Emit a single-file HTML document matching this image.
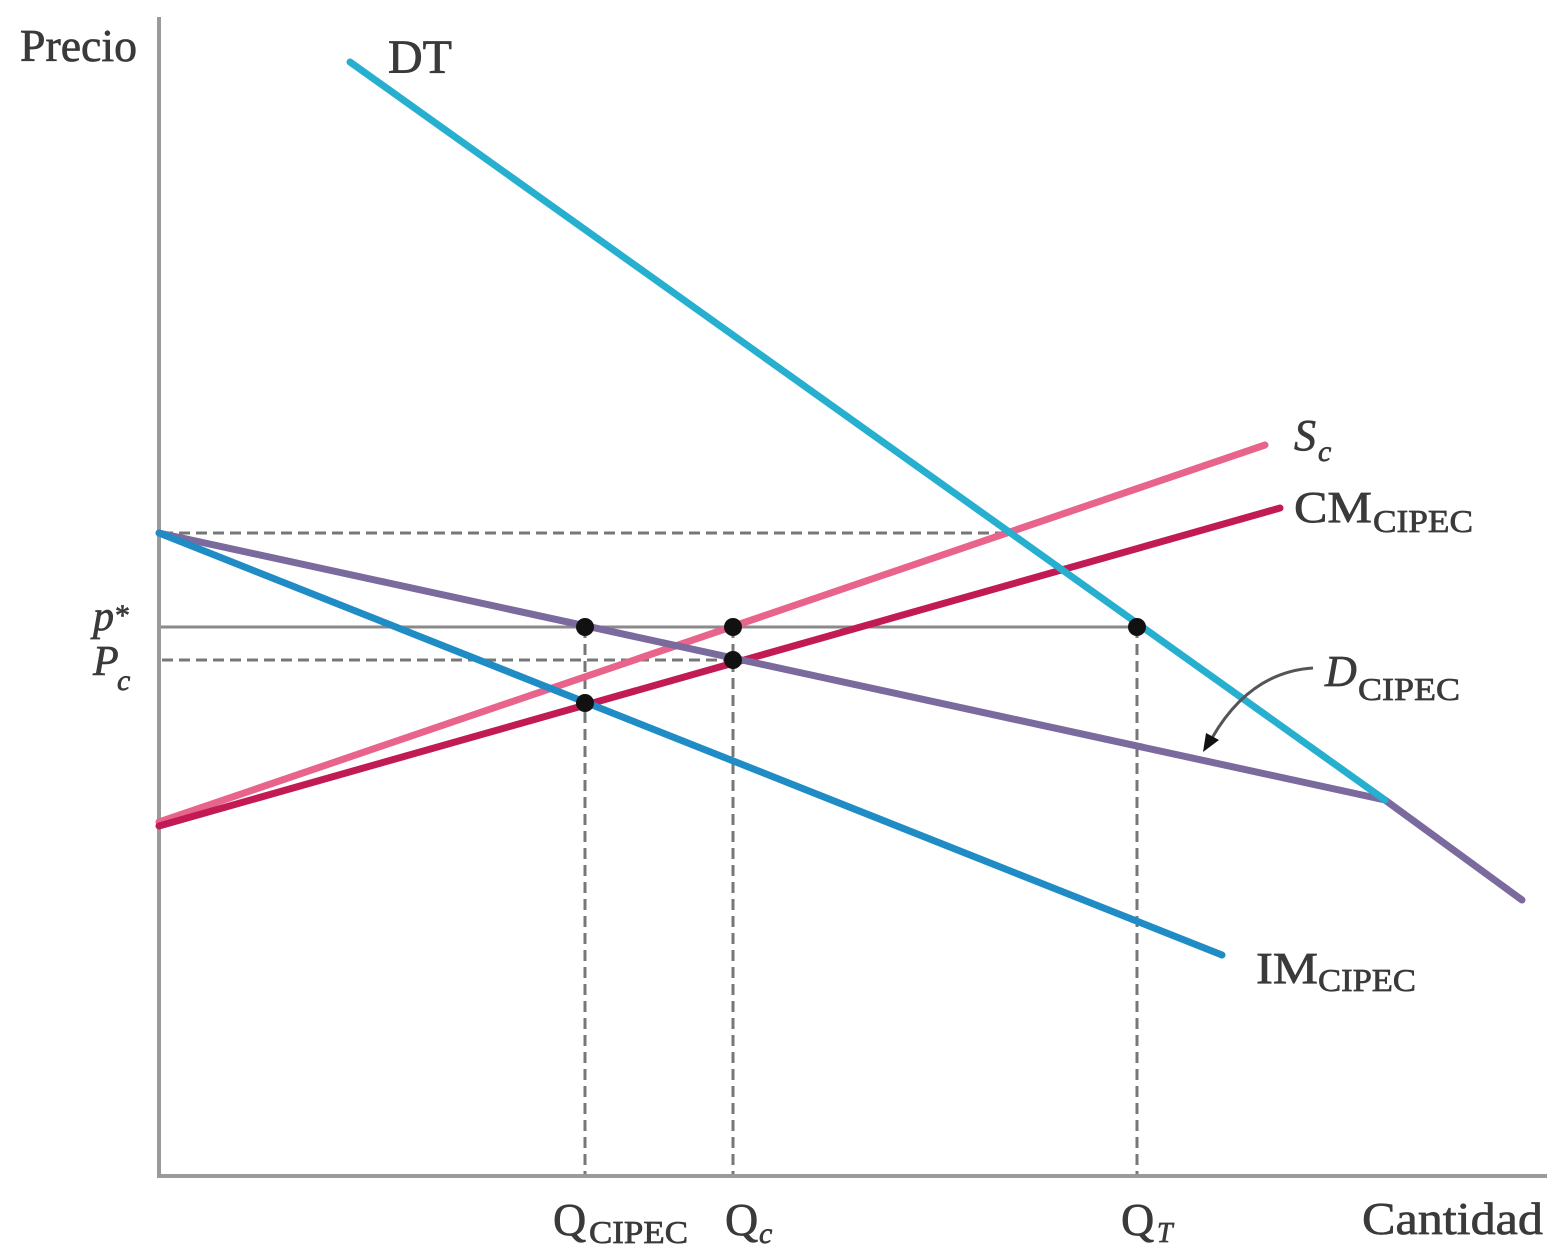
<!DOCTYPE html>
<html><head><meta charset="utf-8"><style>
html,body{margin:0;padding:0;background:#fff;}
svg{display:block;}
text{font-family:"Liberation Serif",serif;fill:#3a3a3a;stroke:#3a3a3a;stroke-width:0.7;}
</style></head><body>
<svg width="1560" height="1254" viewBox="0 0 1560 1254" xmlns="http://www.w3.org/2000/svg">
<!-- axes -->
<line x1="159" y1="17" x2="159" y2="1177" stroke="#9a9a9a" stroke-width="4"/>
<line x1="157" y1="1176" x2="1547" y2="1176" stroke="#9a9a9a" stroke-width="4"/>
<!-- dashed guides -->
<g stroke="#777" stroke-width="3" stroke-dasharray="11,6" fill="none">
<line x1="162" y1="533" x2="1005" y2="533"/>
<line x1="162" y1="660" x2="733" y2="660"/>
<line x1="585" y1="627" x2="585" y2="1174"/>
<line x1="733" y1="627" x2="733" y2="1174"/>
<line x1="1137" y1="627" x2="1137" y2="1174"/>
</g>
<line x1="161" y1="627" x2="1137" y2="627" stroke="#8a8a8a" stroke-width="3"/>
<!-- curves -->
<g stroke-linecap="round" fill="none" stroke-width="7">
<line x1="159" y1="822" x2="1265" y2="445" stroke="#e8648a"/>
<line x1="159" y1="826" x2="1280" y2="508" stroke="#c21a55"/>
<line x1="159" y1="533" x2="1385" y2="800" stroke="#7b6a9e"/>
<line x1="1385" y1="800" x2="1522" y2="900" stroke="#7b6a9e"/>
<line x1="159" y1="533" x2="1222" y2="955" stroke="#1f8cc6"/>
<line x1="350" y1="62" x2="1385" y2="800" stroke="#27afd0"/>
</g>
<!-- arrow -->
<path d="M1313,668 Q1250,672 1212,738" stroke="#555" stroke-width="3" fill="none"/>
<polygon points="1203,752 1206,733 1219,740" fill="#111"/>
<!-- dots -->
<g fill="#111">
<circle cx="585" cy="627" r="9"/>
<circle cx="733" cy="627" r="9"/>
<circle cx="1137" cy="627" r="9"/>
<circle cx="733" cy="660" r="9"/>
<circle cx="585" cy="703" r="9"/>
</g>
<!-- labels -->
<text x="20" y="61" font-size="46" textLength="117" lengthAdjust="spacingAndGlyphs">Precio</text>
<text x="388" y="73" font-size="48" textLength="64" lengthAdjust="spacingAndGlyphs">DT</text>
<text x="93" y="630" font-size="42" font-style="italic">p</text>
<text x="115" y="625" font-size="30">*</text>
<text x="93" y="675" font-size="42" font-style="italic">P</text>
<text x="117" y="690" font-size="30" font-style="italic">c</text>
<text x="1294" y="450" font-size="44" font-style="italic">S</text>
<text x="1318" y="461" font-size="30" font-style="italic">c</text>
<text x="1294" y="522" font-size="44" textLength="78" lengthAdjust="spacingAndGlyphs">CM</text>
<text x="1373" y="532" font-size="32" textLength="100" lengthAdjust="spacingAndGlyphs">CIPEC</text>
<text x="1325" y="686" font-size="44" font-style="italic">D</text>
<text x="1358" y="700" font-size="32" textLength="102" lengthAdjust="spacingAndGlyphs">CIPEC</text>
<text x="1256" y="983" font-size="44" textLength="62" lengthAdjust="spacingAndGlyphs">IM</text>
<text x="1318" y="991" font-size="32" textLength="98" lengthAdjust="spacingAndGlyphs">CIPEC</text>
<text x="553" y="1235" font-size="46">Q</text>
<text x="589" y="1243" font-size="32" textLength="99" lengthAdjust="spacingAndGlyphs">CIPEC</text>
<text x="725" y="1235" font-size="46">Q</text>
<text x="759" y="1243" font-size="30" font-style="italic">c</text>
<text x="1121" y="1235" font-size="46">Q</text>
<text x="1157" y="1242" font-size="28" font-style="italic">T</text>
<text x="1362" y="1234" font-size="46" textLength="181" lengthAdjust="spacingAndGlyphs">Cantidad</text>
</svg>
</body></html>
